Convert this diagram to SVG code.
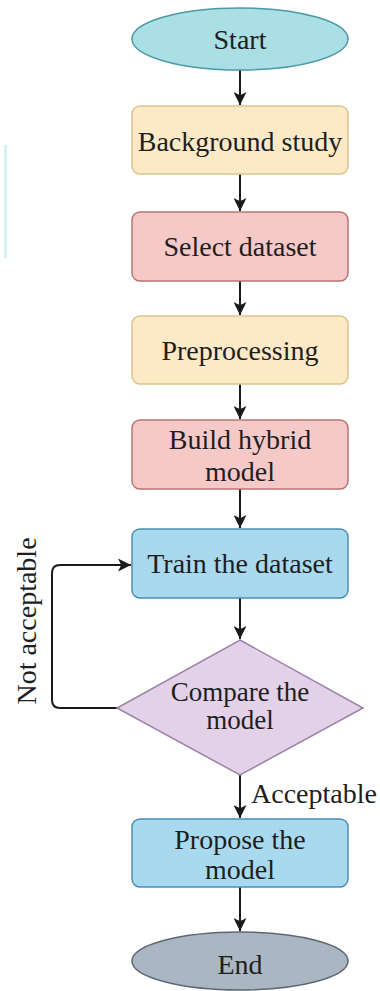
<svg xmlns="http://www.w3.org/2000/svg" width="380" height="991" viewBox="0 0 380 991">
<style>
text{font-family:"Liberation Serif","DejaVu Serif",serif;font-size:28px;fill:#1e1e1e;text-anchor:middle}
.box{stroke-width:1.5}
.yellow{fill:#fce9c6;stroke:#dcc48c}
.red{fill:#f6c9c9;stroke:#b87474}
.blue{fill:#a9d9ef;stroke:#4a8fb3}
.conn{fill:none;stroke:#1a1a1a;stroke-width:2}
.sm{font-size:27px}
</style>
<defs>
<marker id="arr" viewBox="0 0 12 12" refX="12" refY="6" markerWidth="13" markerHeight="13" markerUnits="userSpaceOnUse" orient="auto"><path d="M0,0 L12,6 L0,12 L3,6 z" fill="#1a1a1a"/></marker>
</defs>
<rect x="4" y="145" width="3" height="113" fill="#d5f0f0"/>
<g id="connectors">
<line class="conn" x1="240" y1="70" x2="240" y2="105" marker-end="url(#arr)"/>
<line class="conn" x1="240" y1="174" x2="240" y2="211" marker-end="url(#arr)"/>
<line class="conn" x1="240" y1="281" x2="240" y2="315" marker-end="url(#arr)"/>
<line class="conn" x1="240" y1="384" x2="240" y2="419" marker-end="url(#arr)"/>
<line class="conn" x1="240" y1="489" x2="240" y2="528" marker-end="url(#arr)"/>
<line class="conn" x1="240" y1="598" x2="240" y2="639" marker-end="url(#arr)"/>
<path class="conn" d="M117,708 H60 Q52,708 52,700 V573 Q52,565 60,565 H131" marker-end="url(#arr)"/>
<line class="conn" x1="240" y1="775" x2="240" y2="818" marker-end="url(#arr)"/>
<line class="conn" x1="240" y1="887" x2="240" y2="931" marker-end="url(#arr)"/>
<text transform="translate(36,621) rotate(-90)">Not acceptable</text>
<text x="251" y="803" style="text-anchor:start">Acceptable</text>
</g>
<g id="start">
<ellipse cx="240" cy="39" rx="108" ry="31" fill="#a9dfe5" stroke="#4c9aa6" stroke-width="1.5"/>
<text x="240" y="49">Start</text>
</g>
<g id="background">
<rect class="box yellow" x="132" y="106" width="216" height="68" rx="8"/>
<text x="240" y="151">Background study</text>
</g>
<g id="select">
<rect class="box red" x="132" y="212" width="216" height="69" rx="8"/>
<text x="240" y="256">Select dataset</text>
</g>
<g id="preprocessing">
<rect class="box yellow" x="132" y="316" width="216" height="68" rx="8"/>
<text x="240" y="360">Preprocessing</text>
</g>
<g id="build">
<rect class="box red" x="132" y="420" width="216" height="69" rx="8"/>
<text x="240" y="449">Build hybrid</text>
<text x="240" y="481">model</text>
</g>
<g id="train">
<rect class="box blue" x="132" y="529" width="216" height="69" rx="8"/>
<text x="240" y="573">Train the dataset</text>
</g>
<g id="compare">
<polygon points="240,640 363,708 240,775 117,708" fill="#e2d1e7" stroke="#9b81a8" stroke-width="1.5"/>
<text class="sm" x="240" y="701">Compare the</text>
<text class="sm" x="240" y="729">model</text>
</g>
<g id="propose">
<rect class="box blue" x="132" y="819" width="216" height="68" rx="8"/>
<text x="240" y="849">Propose the</text>
<text x="240" y="879">model</text>
</g>
<g id="end">
<ellipse cx="240" cy="961" rx="108" ry="29" fill="#aab7c3" stroke="#5c6873" stroke-width="1.5"/>
<text x="240" y="974">End</text>
</g>
</svg>
